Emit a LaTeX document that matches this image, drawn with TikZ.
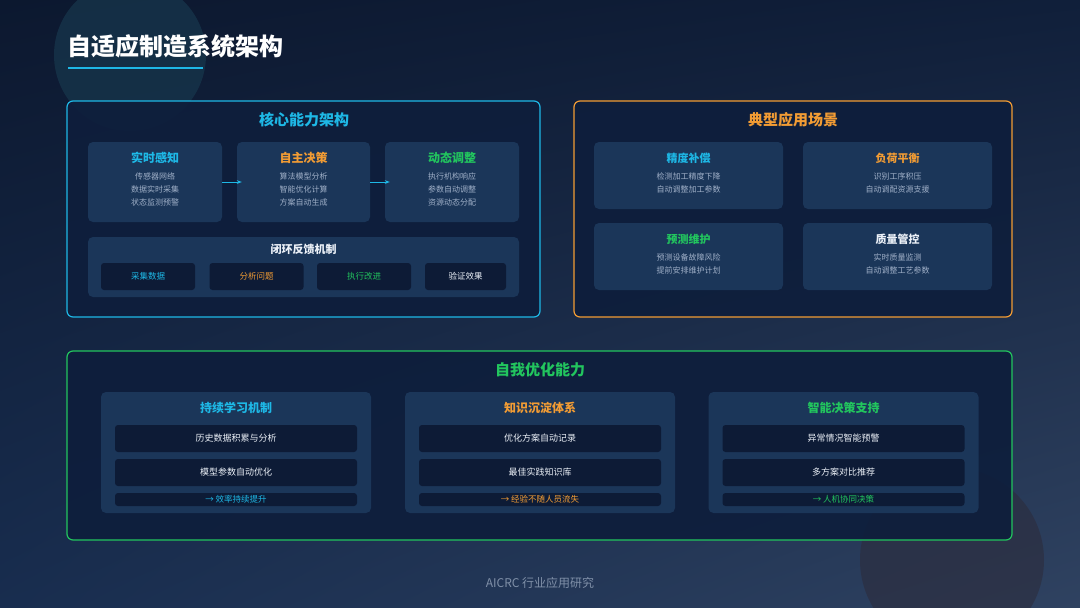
\documentclass[tikz,border=0pt]{standalone}
\usepackage{fontspec}
\setmainfont{Noto Sans CJK SC}
\usepackage{xcolor}
\definecolor{bgdark}{RGB}{12,24,47}
\definecolor{bgmid}{RGB}{16,31,58}
\definecolor{bglight}{RGB}{24,45,79}
\definecolor{panel}{RGB}{14,30,60}
\definecolor{card}{RGB}{27,54,89}
\definecolor{inset}{RGB}{13,27,54}
\definecolor{skyline}{RGB}{30,184,230}
\definecolor{amber}{RGB}{242,156,52}
\definecolor{leaf}{RGB}{34,197,94}
\definecolor{mist}{RGB}{160,176,200}
\definecolor{snow}{RGB}{236,241,248}
\definecolor{footgrey}{RGB}{128,144,168}
\definecolor{glowteal}{RGB}{22,52,74}
\definecolor{glowsand}{RGB}{44,44,60}
\usepackage{tikz}
\usetikzlibrary{positioning, arrows.meta, calc, shadings}

\begin{document}
\begin{tikzpicture}[x=1pt, y=-1pt,
  frame/.style={draw=#1, line width=1.2pt, rounded corners=6pt, fill=panel, fill opacity=0.92, text opacity=1},
  card/.style={rounded corners=5pt, fill=card, inner sep=0pt},
  inset/.style={rounded corners=3pt, fill=inset, inner sep=0pt},
  paneltitle/.style={font=\fontsize{15}{18}\selectfont\bfseries, text=#1},
  cardtitle/.style={font=\fontsize{12}{14}\selectfont\bfseries, text=#1},
  scenetitle/.style={font=\fontsize{11}{13}\selectfont\bfseries, text=#1},
  detail/.style={font=\fontsize{8}{10}\selectfont, text=mist},
  item/.style={font=\fontsize{9}{11}\selectfont, text=snow},
  tag/.style={font=\fontsize{8.5}{10}\selectfont, text=#1},
  flow/.style={thick, color=skyline, -{Stealth[length=5pt]}},
]
  % background
  \useasboundingbox (0,0) rectangle (1080,608);
  \begin{scope}
    \clip (0,0) rectangle (1080,608);
    \shade[upper left=bgdark, upper right=bgmid, lower left=bglight, lower right=bglight!90!white]
      (0,0) rectangle (1080,608);
    \fill[glowteal, opacity=0.8] (130,55) circle (76);
    \fill[glowsand, opacity=0.6] (952,560) circle (92);
  \end{scope}

  % title
  \node[anchor=west, font=\fontsize{24}{28}\selectfont\bfseries, text=white] (title) at (64,46) {自适应制造系统架构};
  \coordinate (ulstart) at (68,68);
  \coordinate (ulend) at (203,68);
  \draw[line width=2pt, color=skyline] (ulstart) -- (ulend);

  % core capability panel
  \node[frame=skyline, minimum width=473, minimum height=216] (core) at (303.5,209) {};
  \node[paneltitle=skyline] (coret) at (304,120) {核心能力架构};
  \node[card, minimum width=134, minimum height=80] (sense) at (155,182) {};
  \node[card, minimum width=133, minimum height=80] (decide) at (303.5,182) {};
  \node[card, minimum width=134, minimum height=80] (adjust) at (452,182) {};
  \node[cardtitle=skyline] (senset) at (155,158) {实时感知};
  \node[detail] (sense1) at (155,176) {传感器网络};
  \node[detail] (sense2) at (155,189) {数据实时采集};
  \node[detail] (sense3) at (155,202) {状态监测预警};
  \node[cardtitle=amber] (decidet) at (303.5,158) {自主决策};
  \node[detail] (decide1) at (303.5,176) {算法模型分析};
  \node[detail] (decide2) at (303.5,189) {智能优化计算};
  \node[detail] (decide3) at (303.5,202) {方案自动生成};
  \node[cardtitle=leaf] (adjustt) at (452,158) {动态调整};
  \node[detail] (adjust1) at (452,176) {执行机构响应};
  \node[detail] (adjust2) at (452,189) {参数自动调整};
  \node[detail] (adjust3) at (452,202) {资源动态分配};
  \draw[flow, shorten >=-5pt] (sense.east) -- (decide.west);
  \draw[flow, shorten >=-5pt] (decide.east) -- (adjust.west);

  % closed loop
  \node[card, minimum width=431, minimum height=60] (loop) at (303.5,267) {};
  \node[font=\fontsize{11}{13}\selectfont\bfseries, text=snow] (loopt) at (303.5,249) {闭环反馈机制};
  \node[inset, minimum width=94, minimum height=27, tag=skyline] (collect) at (148,276.5) {采集数据};
  \node[inset, minimum width=94, minimum height=27, tag=amber] (analyze) at (256.5,276.5) {分析问题};
  \node[inset, minimum width=94, minimum height=27, tag=leaf] (execute) at (364,276.5) {执行改进};
  \node[inset, minimum width=81, minimum height=27, tag=snow] (verify) at (465.5,276.5) {验证效果};

  % application scenes panel
  \node[frame=amber, minimum width=438, minimum height=216] (scene) at (793,209) {};
  \node[paneltitle=amber] (scenet) at (793,120) {典型应用场景};
  \node[card, minimum width=189, minimum height=67] (precise) at (688.5,175.5) {};
  \node[card, minimum width=189, minimum height=67] (balance) at (897.5,175.5) {};
  \node[card, minimum width=189, minimum height=67] (predict) at (688.5,256.5) {};
  \node[card, minimum width=189, minimum height=67] (quality) at (897.5,256.5) {};
  \node[scenetitle=skyline] (preciset) at (688.5,158) {精度补偿};
  \node[detail] (precise1) at (688.5,176) {检测加工精度下降};
  \node[detail] (precise2) at (688.5,189) {自动调整加工参数};
  \node[scenetitle=amber] (balancet) at (897.5,158) {负荷平衡};
  \node[detail] (balance1) at (897.5,176) {识别工序积压};
  \node[detail] (balance2) at (897.5,189) {自动调配资源支援};
  \node[scenetitle=leaf] (predictt) at (688.5,239) {预测维护};
  \node[detail] (predict1) at (688.5,257) {预测设备故障风险};
  \node[detail] (predict2) at (688.5,270) {提前安排维护计划};
  \node[scenetitle=snow] (qualityt) at (897.5,239) {质量管控};
  \node[detail] (quality1) at (897.5,257) {实时质量监测};
  \node[detail] (quality2) at (897.5,270) {自动调整工艺参数};

  % self optimisation panel
  \node[frame=leaf, minimum width=945, minimum height=189] (opt) at (539.5,445.5) {};
  \node[paneltitle=leaf] (optt) at (540,370) {自我优化能力};
  \node[card, minimum width=270, minimum height=121] (learn) at (236,452.5) {};
  \node[card, minimum width=270, minimum height=121] (store) at (540,452.5) {};
  \node[card, minimum width=270, minimum height=121] (assist) at (843.5,452.5) {};
  \node[cardtitle=skyline] (learnt) at (236,408) {持续学习机制};
  \node[cardtitle=amber] (storet) at (540,408) {知识沉淀体系};
  \node[cardtitle=leaf] (assistt) at (843.5,408) {智能决策支持};
  \node[inset, minimum width=242, minimum height=27, item] (learn1) at (236,438.5) {历史数据积累与分析};
  \node[inset, minimum width=242, minimum height=27, item] (learn2) at (236,472.5) {模型参数自动优化};
  \node[inset, minimum width=242, minimum height=13, tag=skyline] (learn3) at (236,499.5) {→ 效率持续提升};
  \node[inset, minimum width=242, minimum height=27, item] (store1) at (540,438.5) {优化方案自动记录};
  \node[inset, minimum width=242, minimum height=27, item] (store2) at (540,472.5) {最佳实践知识库};
  \node[inset, minimum width=242, minimum height=13, tag=amber] (store3) at (540,499.5) {→ 经验不随人员流失};
  \node[inset, minimum width=242, minimum height=27, item] (assist1) at (843.5,438.5) {异常情况智能预警};
  \node[inset, minimum width=242, minimum height=27, item] (assist2) at (843.5,472.5) {多方案对比推荐};
  \node[inset, minimum width=242, minimum height=13, tag=leaf] (assist3) at (843.5,499.5) {→ 人机协同决策};

  % footer
  \node[font=\fontsize{12}{14}\selectfont, text=footgrey] (foot) at (540,583) {AICRC 行业应用研究};
\end{tikzpicture}
\end{document}
